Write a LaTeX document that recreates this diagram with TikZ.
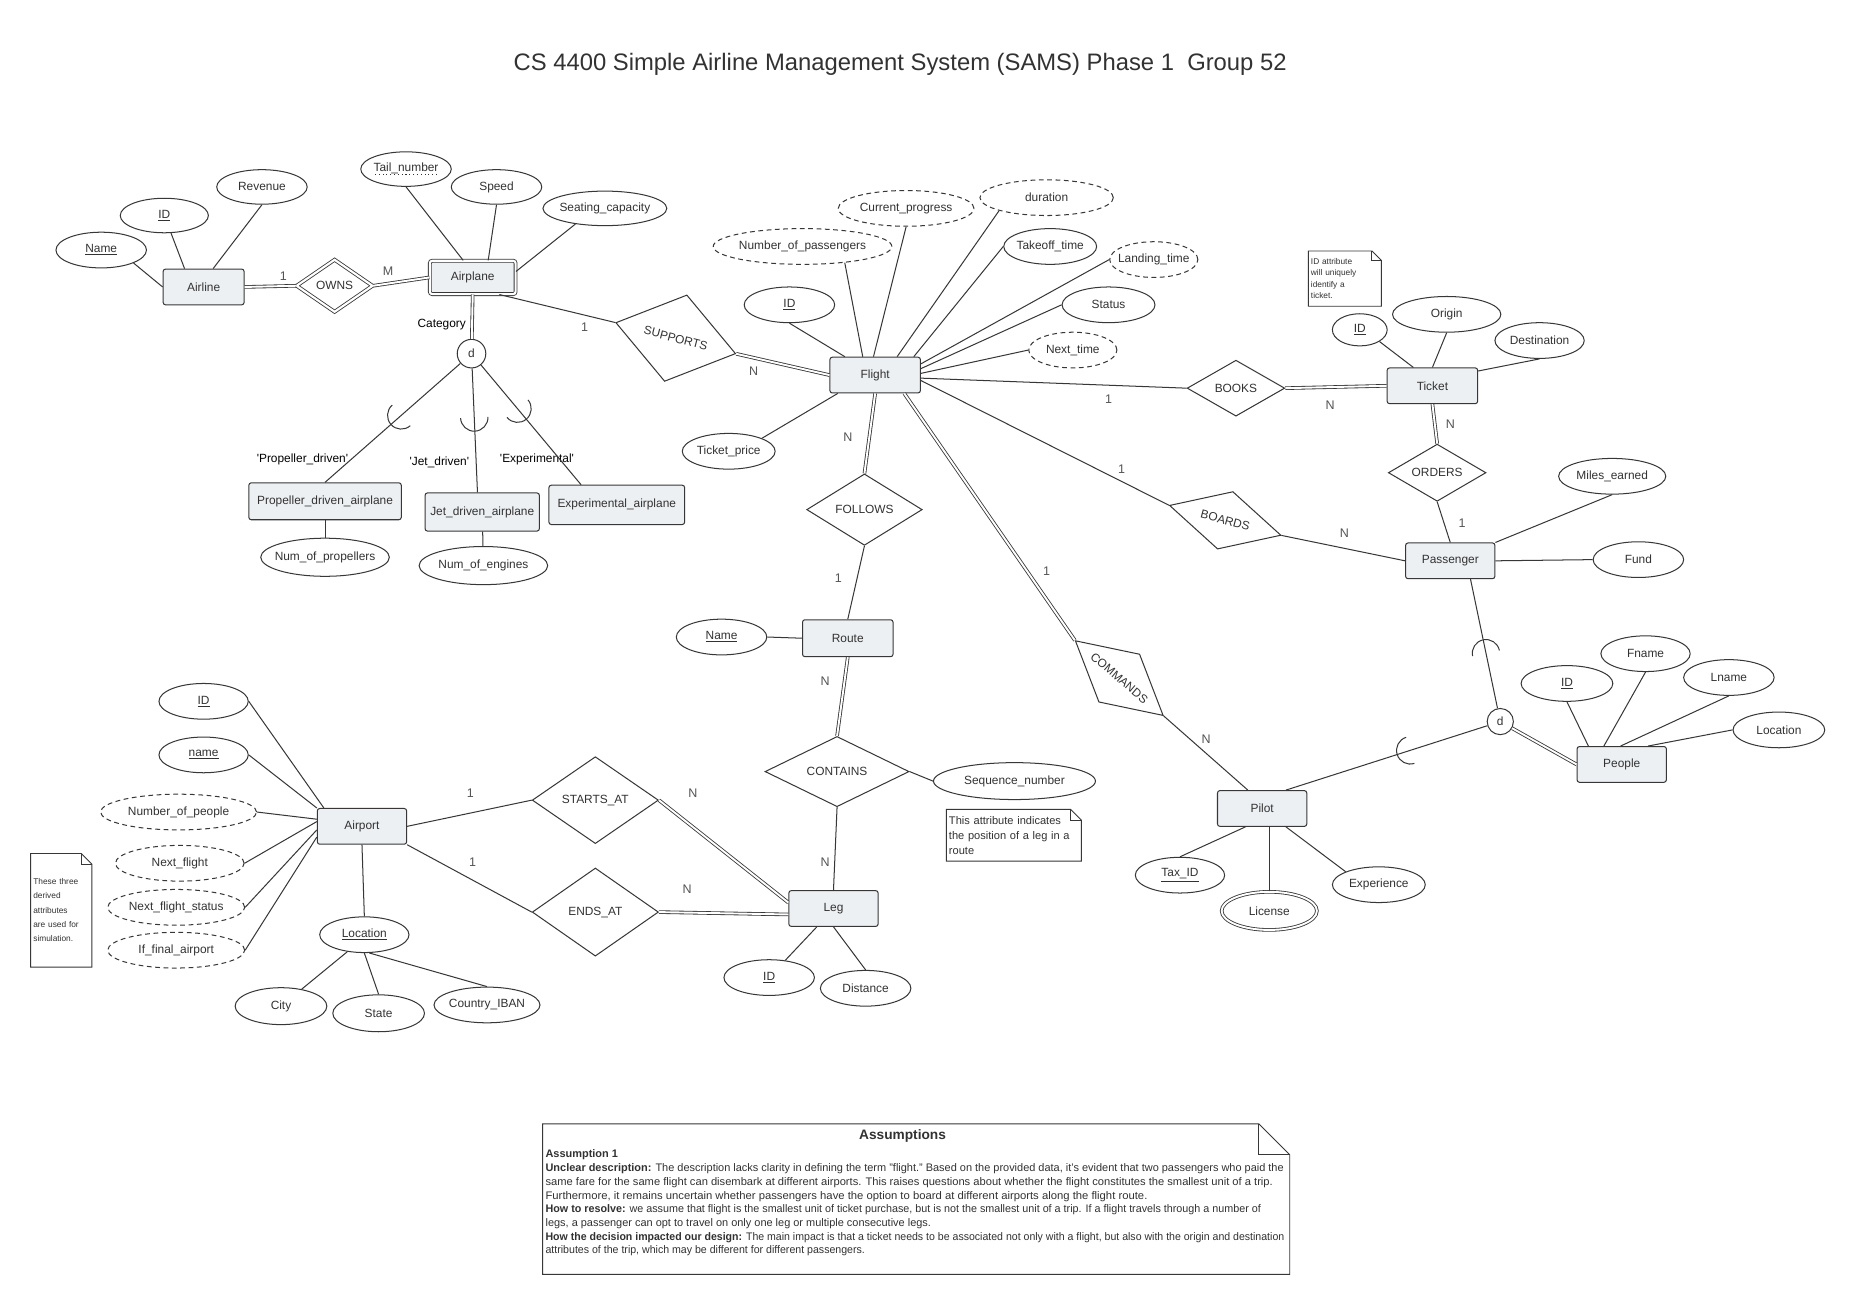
\documentclass[tikz,border=0pt]{standalone}
\usepackage{fontspec}
\setmainfont{Liberation Sans}
\usepackage{graphicx}
\usetikzlibrary{shapes.geometric,calc}
\definecolor{lc}{RGB}{55,55,55}
\definecolor{tc}{RGB}{50,50,50}
\definecolor{cardc}{RGB}{85,85,85}
\definecolor{entfill}{RGB}{237,240,243}
\newcommand\cbox[1]{\makebox[0pt][c]{#1}}
\newcommand\ul[1]{\underline{#1}}
\newcommand\dotul[1]{\setbox0\hbox{#1}\rlap{\raisebox{-2.6pt}{\hbox to \wd0{\leaders\hbox to 3.2pt{\hss\rule{0.9pt}{0.9pt}\hss}\hfill}}}\box0}
\newcommand\subarc[3]{%
  \path ($(#1)!#3!(#2)$) coordinate (sac);
  \draw[conn] let \p1 = ($(#1)-(sac)$), \n1 = {atan2(\y1,\x1)} in
    ($(sac)+(\n1+90:11.5pt)$) arc[start angle=\n1+90, delta angle=180, radius=11.5pt];
}
\newcommand\dogear[2]{%
  \draw[conn, line width=0.8pt] (#1.south west) -- (#1.north west) -- ([xshift=-#2]#1.north east) -- ([yshift=-#2]#1.north east) -- (#1.south east) -- cycle;
  \draw[conn, line width=0.8pt] ([xshift=-#2]#1.north east) |- ([yshift=-#2]#1.north east);
}
\tikzset{
  basic/.style={line width=0.85pt, draw=lc, text=tc, font=\fontsize{10}{12}\selectfont, inner sep=0pt},
  ent/.style={basic, rectangle, rounded corners=2pt, fill=entfill, minimum height=30pt},
  wkent/.style={ent, double=white, double distance=1.8pt, line width=0.7pt},
  attr/.style={basic, ellipse, fill=white, minimum height=30pt},
  dattr/.style={attr, dash pattern=on 4pt off 3pt},
  rel/.style={basic, diamond, fill=white},
  dcirc/.style={basic, circle, fill=white, minimum size=24pt},
  conn/.style={line width=0.85pt, draw=lc},
  dconn/.style={line width=0.7pt, draw=lc, double=white, double distance=1.6pt},
  card/.style={text=cardc, font=\fontsize{10.5}{12}\selectfont, inner sep=0pt},
  lab/.style={text=black, font=\fontsize{10}{12}\selectfont, inner sep=0pt},
  note/.style={rectangle, inner sep=2pt, align=left, text=tc},
  asmline/.style={anchor=base west, inner sep=0pt, text=tc, font=\fontsize{9.2}{10}\selectfont},
}
\begin{document}
\begin{tikzpicture}[x=1pt, y=-1pt]
\fill[white] (0,0) rectangle (1568,1090);
\useasboundingbox (0,0) rectangle (1568,1090);

\node[text=tc, font=\fontsize{20}{24}\selectfont, inner sep=0pt] (title) at (756,54) {CS 4400 Simple Airline Management System (SAMS) Phase 1\ \ Group 52};

% Airline / Airplane
\node[ent, minimum width=68pt] (airline) at (171,241) {Airline};
\node[attr, minimum width=76pt] (alname) at (85,210) {\cbox{\ul{Name}}};
\node[attr, minimum width=74pt, minimum height=29pt] (alid) at (138,181) {\cbox{\ul{ID}}};
\node[attr, minimum width=76pt, minimum height=29pt] (alrev) at (220,157) {\cbox{Revenue}};
\node[rel, double=white, double distance=1.8pt, line width=0.7pt, minimum width=64pt, minimum height=44pt] (owns) at (281,240) {\cbox{OWNS}};
\node[wkent, minimum width=72pt, minimum height=28pt] (airplane) at (397,233) {Airplane};
\node[attr, minimum width=76pt, minimum height=29pt] (aptail) at (341,142) {\cbox{\dotul{Tail\_number}}};
\node[attr, minimum width=76pt, minimum height=29pt] (apspeed) at (417,157) {\cbox{Speed}};
\node[attr, minimum width=104pt, minimum height=29pt] (apseat) at (508,175) {\cbox{Seating\_capacity}};
\node[dcirc] (dA) at (396,297) {d};
\node[lab] (lcat) at (371,273) {Category};
\node[ent, minimum width=128pt, minimum height=31pt] (prop) at (273,421) {Propeller\_driven\_airplane};
\node[ent, minimum width=96pt, minimum height=32pt] (jet) at (405,430) {Jet\_driven\_airplane};
\node[ent, minimum width=114pt, minimum height=33pt] (exper) at (518,424) {Experimental\_airplane};
\node[attr, minimum width=108pt, minimum height=32pt] (numprop) at (273,468) {\cbox{Num\_of\_propellers}};
\node[attr, minimum width=108pt, minimum height=32pt] (numeng) at (406,475) {\cbox{Num\_of\_engines}};
\node[lab] (lprop) at (254,386) {\textquotesingle Propeller\_driven\textquotesingle};
\node[lab] (ljet) at (369,388) {\textquotesingle Jet\_driven\textquotesingle};
\node[lab] (lexp) at (451,386) {\textquotesingle Experimental\textquotesingle};
\node[rel, rotate=-14.5, minimum width=104pt, minimum height=75pt] (supports) at (567.5,284) {\cbox{SUPPORTS}};

% Flight
\node[ent, minimum width=76pt] (flight) at (735,315) {Flight};
\node[dattr, minimum width=150pt] (fnop) at (674,207) {\cbox{Number\_of\_passengers}};
\node[dattr, minimum width=114pt] (fcur) at (761,175) {\cbox{Current\_progress}};
\node[dattr, minimum width=112pt] (fdur) at (879,166) {\cbox{duration}};
\node[attr, minimum width=78pt] (ftake) at (882,207) {\cbox{Takeoff\_time}};
\node[dattr, minimum width=74pt] (fland) at (969,218) {\cbox{Landing\_time}};
\node[attr, minimum width=78pt] (fstat) at (931,256) {\cbox{Status}};
\node[dattr, minimum width=74pt] (fnext) at (901,294) {\cbox{Next\_time}};
\node[attr, minimum width=76pt] (fid) at (663,256) {\cbox{\ul{ID}}};
\node[attr, minimum width=78pt] (ftp) at (612,379) {\cbox{Ticket\_price}};

% Ticket / Passenger
\node[rel, minimum width=82pt, minimum height=47pt] (books) at (1038,326) {\cbox{BOOKS}};
\node[ent, minimum width=76pt] (ticket) at (1203,324) {Ticket};
\node[attr, minimum width=46pt, minimum height=27pt] (tid) at (1142,277) {\cbox{\ul{ID}}};
\node[attr, minimum width=91pt] (torig) at (1215,264) {\cbox{Origin}};
\node[attr, minimum width=75pt] (tdest) at (1293,286) {\cbox{Destination}};
\node[note, text width=57pt, minimum height=46pt, font=\fontsize{7}{9.6}\selectfont] (notet) at (1129.5,234) {ID attribute\\will uniquely\\identify a\\ticket.};
\node[rel, minimum width=82pt, minimum height=48pt] (orders) at (1207,397) {\cbox{ORDERS}};
\node[ent, minimum width=75pt] (passenger) at (1218,471) {Passenger};
\node[attr, minimum width=90pt] (pmiles) at (1354,400) {\cbox{Miles\_earned}};
\node[attr, minimum width=76pt] (pfund) at (1376,470) {\cbox{Fund}};
\node[rel, rotate=-15, minimum width=97pt, minimum height=50pt] (boards) at (1029,437) {\cbox{BOARDS}};
\node[rel, minimum width=97pt, minimum height=60pt] (follows) at (726,428) {\cbox{FOLLOWS}};
\node[rel, rotate=-40.4, minimum width=97pt, minimum height=53pt] (commands) at (940,569.5) {\cbox{COMMANDS}};

% Route / Leg
\node[ent, minimum width=76pt, minimum height=31pt] (route) at (712,536) {Route};
\node[attr, minimum width=76pt] (rname) at (606,535) {\cbox{\ul{Name}}};
\node[rel, minimum width=121pt, minimum height=59pt] (contains) at (703,648) {\cbox{CONTAINS}};
\node[attr, minimum width=136pt, minimum height=31pt] (seqnum) at (852,656) {\cbox{Sequence\_number}};
\node[note, text width=109pt, minimum height=43pt, font=\fontsize{9.3}{12.4}\selectfont] (noteseq) at (851.5,701.5) {This attribute indicates\\the position of a leg in a\\route};
\node[ent, minimum width=75pt] (leg) at (700,763) {Leg};
\node[attr, minimum width=76pt] (lid) at (646,821) {\cbox{\ul{ID}}};
\node[attr, minimum width=76pt] (ldist) at (727,830) {\cbox{Distance}};
\node[rel, minimum width=106pt, minimum height=73pt] (startsat) at (500,672) {\cbox{STARTS\_AT}};
\node[rel, minimum width=106pt, minimum height=74pt] (endsat) at (500,766) {\cbox{ENDS\_AT}};

% Airport
\node[ent, minimum width=75pt] (airport) at (304,694) {Airport};
\node[attr, minimum width=75pt] (apid) at (171,589) {\cbox{\ul{ID}}};
\node[attr, minimum width=75pt] (apname) at (171,634) {\cbox{\ul{name}}};
\node[dattr, minimum width=131pt] (apnop) at (150,682) {\cbox{Number\_of\_people}};
\node[dattr, minimum width=108pt] (apnf) at (151,725) {\cbox{Next\_flight}};
\node[dattr, minimum width=115pt] (apnfs) at (148,762) {\cbox{Next\_flight\_status}};
\node[dattr, minimum width=115pt] (apiff) at (148,798) {\cbox{If\_final\_airport}};
\node[attr, minimum width=75pt] (aploc) at (306,785) {\cbox{\ul{Location}}};
\node[attr, minimum width=77pt, minimum height=31pt] (city) at (236,845) {\cbox{City}};
\node[attr, minimum width=77pt, minimum height=31pt] (state) at (318,851) {\cbox{State}};
\node[attr, minimum width=89pt] (country) at (409,844) {\cbox{Country\_IBAN}};
\node[note, text width=47pt, minimum height=95pt, font=\fontsize{7}{12}\selectfont] (noteap) at (51.5,764.5) {These three\\derived\\attributes\\are used for\\simulation.};

% Pilot / People
\node[ent, minimum width=75pt] (pilot) at (1060,679) {Pilot};
\node[attr, minimum width=75pt] (pitax) at (991,735) {\cbox{\ul{Tax\_ID}}};
\node[attr, double=white, double distance=1.6pt, line width=0.7pt, minimum width=80pt, minimum height=32pt] (pilic) at (1066,765) {\cbox{License}};
\node[attr, minimum width=78pt] (piexp) at (1158,743) {\cbox{Experience}};
\node[dcirc, minimum size=22pt] (dP) at (1260,606) {d};
\node[ent, minimum width=75pt] (people) at (1362,642) {People};
\node[attr, minimum width=77pt] (peid) at (1316,574) {\cbox{\ul{ID}}};
\node[attr, minimum width=75pt] (pefn) at (1382,549) {\cbox{Fname}};
\node[attr, minimum width=76pt] (peln) at (1452,569) {\cbox{Lname}};
\node[attr, minimum width=77pt] (peloc) at (1494,613) {\cbox{Location}};

% notes outlines
\dogear{notet}{8pt}
\dogear{noteseq}{9pt}
\dogear{noteap}{9pt}

% connectors: Airline / Airplane
\draw[conn] (alname.south east) -- (airline.west);
\draw[conn] (alid) -- ([xshift=-16pt]airline.north);
\draw[conn] (alrev.south) -- ([xshift=8pt]airline.north);
\draw[dconn] (airline.east) -- (owns.west);
\draw[dconn] (owns.east) -- (airplane.west);
\draw[conn] (aptail.south) -- ([xshift=-8pt]airplane.north);
\draw[conn] (apspeed.south) -- ([xshift=13pt]airplane.north);
\draw[conn] (apseat.208) -- ([yshift=5pt]airplane.east);
\draw[dconn] (airplane.south) -- (dA);
\coordinate (jetn) at ([xshift=-4pt]jet.north);
\coordinate (expn) at ([xshift=-30pt]exper.north);
\draw[conn] (dA) -- (prop.north);
\draw[conn] (dA) -- (jetn);
\draw[conn] (dA) -- (expn);
\subarc{dA}{prop.north}{0.48}
\subarc{dA}{jetn}{0.46}
\subarc{dA}{expn}{0.42}
\draw[conn] (prop) -- (numprop);
\draw[conn] (jet) -- (numeng);
\draw[conn] ([xshift=-14pt]airplane.south east) -- (supports.west);
\draw[dconn] (supports.east) -- (flight.west);

% Flight
\draw[conn] (fid.south) -- ([xshift=13pt]flight.north west);
\draw[conn] (fnop.-21) -- ([xshift=28pt]flight.north west);
\draw[conn] (fcur.south) -- ([xshift=37pt]flight.north west);
\draw[conn] (fdur.south west) -- ([xshift=-20pt]flight.north east);
\draw[conn] (ftake.west) -- ([xshift=-6pt]flight.north east);
\draw[conn] (fland.west) -- ([yshift=-6pt]flight.north east);
\draw[conn] (fstat.west) -- ([yshift=-10pt]flight.north east);
\draw[conn] (fnext.west) -- ([yshift=-14pt]flight.north east);
\draw[conn] (ftp.north east) -- ([xshift=7pt]flight.south west);
\draw[conn] ([yshift=-18pt]flight.north east) -- (books.west);
\draw[dconn] (books.east) -- (ticket.west);
\draw[conn] ([yshift=-20pt]flight.north east) -- (boards.west);
\draw[dconn] (flight.south) -- (follows.north);
\draw[conn] (follows.south) -- (route.north);
\draw[dconn] ([xshift=-14pt]flight.south east) -- (commands.west);
\draw[conn] (commands.east) -- ([xshift=-12pt]pilot.north);

% Ticket / Passenger
\draw[conn] (tid.south east) -- ([xshift=-16pt]ticket.north);
\draw[conn] (torig.south) -- (ticket.north);
\draw[conn] (tdest.south) -- ([yshift=-3pt]ticket.north east);
\draw[dconn] (ticket.south) -- (orders.north);
\draw[conn] (orders.south) -- (passenger.north);
\draw[conn] (pmiles.south) -- (passenger.north east);
\draw[conn] (pfund.west) -- (passenger.east);
\draw[conn] (boards.east) -- (passenger.west);
\coordinate (pasd) at ([xshift=17pt]passenger.south);
\coordinate (pild) at ([xshift=-18pt]pilot.north east);
\draw[conn] (pasd) -- (dP);
\draw[dconn] (dP) -- (people.west);
\draw[conn] (dP) -- (pild);
\subarc{dP}{pasd}{0.48}
\subarc{dP}{pild}{0.42}
\draw[conn] (peid.south) -- ([xshift=-28pt]people.north);
\draw[conn] (pefn.south) -- ([xshift=-15pt]people.north);
\draw[conn] (peln.south) -- ([xshift=-1pt]people.north);
\draw[conn] (peloc.west) -- ([xshift=22pt]people.north);
\draw[conn] (pitax.north) -- ([xshift=-14pt]pilot.south);
\draw[conn] (pilic.north) -- ([xshift=6pt]pilot.south);
\draw[conn] (piexp.north west) -- ([xshift=20pt]pilot.south);

% Route / Leg / Airport
\draw[conn] (rname.east) -- (route.west);
\draw[dconn] (route.south) -- (contains.north);
\draw[conn] (contains.east) -- (seqnum.west);
\draw[conn] (contains.south) -- (leg.north);
\draw[conn] (lid.47) -- ([xshift=-14pt]leg.south);
\draw[conn] (ldist.north) -- (leg.south);
\draw[conn] (airport.east) -- (startsat.west);
\draw[conn] (airport.south east) -- (endsat.west);
\draw[dconn] (startsat.east) -- ([yshift=5pt]leg.west);
\draw[dconn] (endsat.east) -- ([yshift=-5pt]leg.west);
\draw[conn] (apid.east) -- ([xshift=-32pt]airport.north);
\draw[conn] (apname.east) -- (airport.north west);
\draw[conn] (apnop.east) -- ([yshift=6pt]airport.west);
\draw[conn] (apnf.east) -- ([yshift=4pt]airport.west);
\draw[conn] (apnfs.east) -- ([yshift=-3pt]airport.west);
\draw[conn] (apiff.east) -- ([yshift=-9pt]airport.west);
\draw[conn] (aploc.north) -- (airport.south);
\draw[conn] (aploc.225) -- (city);
\draw[conn] (aploc.south) -- (state.north);
\draw[conn] (aploc.-75) -- (country.north);

% cardinalities
\node[card] (k1) at (238,232) {1};
\node[card] (k2) at (326,228) {M};
\node[card] (k3) at (491,275) {1};
\node[card] (k4) at (633,312) {N};
\node[card] (k5) at (931,335) {1};
\node[card] (k6) at (1117,340) {N};
\node[card] (k7) at (1218,356) {N};
\node[card] (k8) at (1228,439) {1};
\node[card] (k9) at (942,394) {1};
\node[card] (k10) at (1129,448) {N};
\node[card] (k11) at (712,367) {N};
\node[card] (k12) at (704,486) {1};
\node[card] (k13) at (879,480) {1};
\node[card] (k14) at (1013,621) {N};
\node[card] (k15) at (693,572) {N};
\node[card] (k16) at (693,724) {N};
\node[card] (k17) at (395,666) {1};
\node[card] (k18) at (582,666) {N};
\node[card] (k19) at (397,724) {1};
\node[card] (k20) at (577,747) {N};

% Assumptions
\node[draw=none, minimum width=627pt, minimum height=126pt, inner sep=0pt] (asm) at (769.5,1007) {};
\dogear{asm}{26pt}
\node[text=tc, font=\bfseries\fontsize{11.5}{13}\selectfont, inner sep=0pt] (asmtitle) at (758,954) {Assumptions};
\node[asmline] (a1) at (458,972) {\textbf{Assumption 1}};
\node[asmline] (a2) at (458,984) {\textbf{Unclear description:} The description lacks clarity in defining the term "flight." Based on the provided data, it's evident that two passengers who paid the};
\node[asmline] (a3) at (458,995.5) {\scalebox{1.018}[1]{same fare for the same flight can disembark at different airports. This raises questions about whether the flight constitutes the smallest unit of a trip.}};
\node[asmline] (a4) at (458,1007) {\scalebox{1.03}[1]{Furthermore, it remains uncertain whether passengers have the option to board at different airports along the flight route.}};
\node[asmline] (a5) at (458,1018.5) {\scalebox{0.982}[1]{\textbf{How to resolve:} we assume that flight is the smallest unit of ticket purchase, but is not the smallest unit of a trip. If a flight travels through a number of}};
\node[asmline] (a6) at (458,1030) {legs, a passenger can opt to travel on only one leg or multiple consecutive legs.};
\node[asmline] (a7) at (458,1041.5) {\scalebox{0.964}[1]{\textbf{How the decision impacted our design:} The main impact is that a ticket needs to be associated not only with a flight, but also with the origin and destination}};
\node[asmline] (a8) at (458,1053) {\scalebox{0.967}[1]{attributes of the trip, which may be different for different passengers.}};
\end{tikzpicture}
\end{document}
